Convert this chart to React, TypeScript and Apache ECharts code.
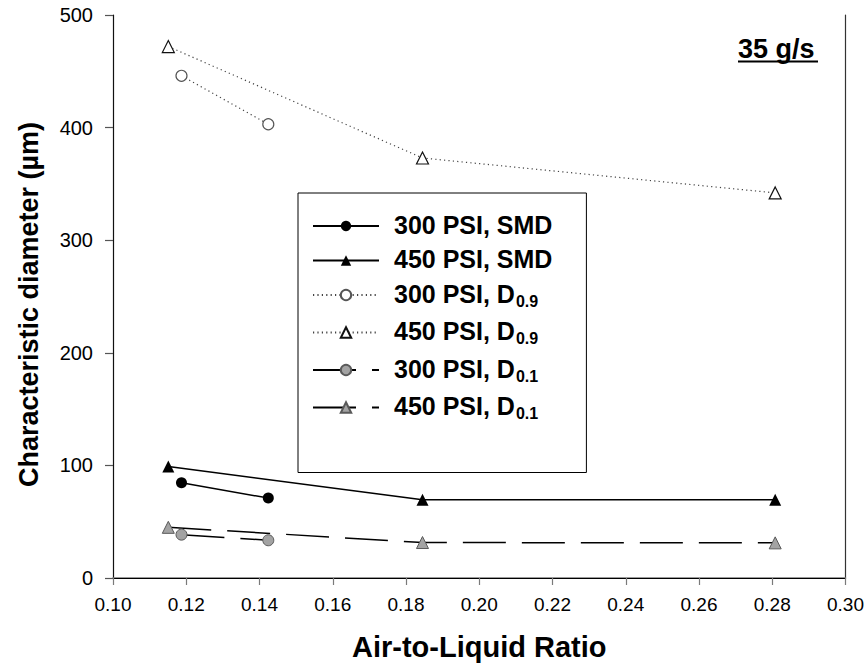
import React, { useEffect, useRef } from "react";
import * as echarts from "echarts";

const ALR_300 = [0.1187, 0.1424];
const ALR_450 = [0.1151, 0.1845, 0.2808];
const SMD_300 = [84.5, 71];
const SMD_450 = [99, 69.5, 69.5];
const D09_300 = [446, 403];
const D09_450 = [472, 373, 342];
const D01_300 = [38.5, 33.5];
const D01_450 = [45, 31.5, 31.2];

const SERIES_NAMES = [
  "300 PSI, SMD",
  "450 PSI, SMD",
  "300 PSI, D0.9",
  "450 PSI, D0.9",
  "300 PSI, D0.1",
  "450 PSI, D0.1",
];
const X_TICKS = { min: 0.1, max: 0.3, interval: 0.02 };
const Y_TICKS = { min: 0, max: 500, interval: 100 };
const TITLE = "35 g/s";
const X_NAME = "Air-to-Liquid Ratio";
const Y_NAME = "Characteristic diameter (\u00b5m)";

const FONT = "'Liberation Sans', Arial, Helvetica, sans-serif";

function pairs(xs: number[], ys: number[]) {
  return xs.map((x, i) => [x, ys[i]]);
}

export default function App() {
  const ref = useRef<HTMLDivElement>(null);
  useEffect(() => {
    document.body.style.margin = "0";
    if (!ref.current) return;
    const chart = echarts.init(ref.current, undefined, { renderer: "svg" });
    const solid = { color: "#000", width: 1.5, type: "solid" as const };
    const dotted = { color: "#444", width: 1.2, type: [1.2, 3.2] as any };
    const dashed = { color: "#000", width: 1.5, type: [43, 16] as any };
    const grayItem = { color: "#a3a3a3", borderColor: "#5a5a5a", borderWidth: 1 };
    const series: any[] = [
      {
        name: SERIES_NAMES[0],
        data: pairs(ALR_300, SMD_300),
        symbol: "circle",
        symbolSize: 11,
        lineStyle: solid,
        itemStyle: { color: "#000", borderColor: "#000", borderWidth: 0 },
      },
      {
        name: SERIES_NAMES[1],
        data: pairs(ALR_450, SMD_450),
        symbol: "triangle",
        symbolSize: 12,
        lineStyle: solid,
        itemStyle: { color: "#000", borderColor: "#000", borderWidth: 0 },
      },
      {
        name: SERIES_NAMES[2],
        data: pairs(ALR_300, D09_300),
        symbol: "circle",
        symbolSize: 11,
        lineStyle: dotted,
        itemStyle: { color: "#fff", borderColor: "#555", borderWidth: 1.2 },
      },
      {
        name: SERIES_NAMES[3],
        data: pairs(ALR_450, D09_450),
        symbol: "triangle",
        symbolSize: 12,
        lineStyle: dotted,
        itemStyle: { color: "#fff", borderColor: "#111", borderWidth: 1.2 },
      },
      {
        name: SERIES_NAMES[4],
        data: pairs(ALR_300, D01_300),
        symbol: "circle",
        symbolSize: 11,
        lineStyle: dashed,
        itemStyle: grayItem,
      },
      {
        name: SERIES_NAMES[5],
        data: pairs(ALR_450, D01_450),
        symbol: "triangle",
        symbolSize: 12,
        lineStyle: dashed,
        itemStyle: grayItem,
      },
    ].map((s) => ({ ...s, type: "line", showSymbol: true, z: 3 }));

    const legendFormatter = (name: string) => {
      const m = name.match(/^(.*D)(0\.\d)$/);
      if (m) return `{m|${m[1]}}{s|${m[2]}}`;
      return `{m|${name}}`;
    };

    chart.setOption({
      animation: false,
      textStyle: { fontFamily: FONT },
      grid: { left: 113, right: 20, top: 15, bottom: 91, containLabel: false },
      legend: {
        orient: "vertical",
        left: 298,
        top: 193,
        data: SERIES_NAMES,
        itemWidth: 66,
        itemHeight: 13,
        itemGap: 9.5,
        padding: [19, 34, 51, 14],
        borderColor: "#000",
        borderWidth: 1,
        backgroundColor: "#fff",
        selectedMode: false,
        formatter: legendFormatter,
        textStyle: {
          rich: {
            m: {
              fontFamily: FONT,
              fontSize: 25,
              fontWeight: "bold",
              color: "#000",
              lineHeight: 28,
              verticalAlign: "top",
              padding: [0, 0, 0, 10],
            },
            s: {
              fontFamily: FONT,
              fontSize: 16,
              fontWeight: "bold",
              color: "#000",
              lineHeight: 16,
              verticalAlign: "top",
              padding: [12, 0, 0, 1],
            },
          },
        },
      },
      xAxis: [
        {
          type: "value",
          min: X_TICKS.min,
          max: X_TICKS.max,
          interval: X_TICKS.interval,
          name: X_NAME,
          nameLocation: "middle",
          nameGap: 54,
          nameTextStyle: { fontFamily: FONT, fontSize: 29, fontWeight: "bold", color: "#000" },
          axisLine: { show: true, lineStyle: { color: "#7a7a7a", width: 1.5 } },
          axisTick: { show: true, length: 7, lineStyle: { color: "#7a7a7a", width: 1.2 } },
          axisLabel: {
            fontFamily: FONT,
            fontSize: 19,
            color: "#000",
            margin: 17,
            formatter: (v: number) => v.toFixed(2),
          },
          splitLine: { show: false },
        },
        {
          type: "value",
          position: "top",
          min: X_TICKS.min,
          max: X_TICKS.max,
          interval: X_TICKS.interval,
          axisLine: { show: true, lineStyle: { color: "#000", width: 1.2 } },
          axisTick: { show: false },
          axisLabel: { show: false },
          splitLine: { show: false },
        },
      ],
      yAxis: [
        {
          type: "value",
          min: Y_TICKS.min,
          max: Y_TICKS.max,
          interval: Y_TICKS.interval,
          name: Y_NAME,
          nameLocation: "middle",
          nameGap: 71,
          nameTextStyle: { fontFamily: FONT, fontSize: 27, fontWeight: "bold", color: "#000", padding: [0, 16, 0, 0] },
          axisLine: { show: true, lineStyle: { color: "#111", width: 1.2 } },
          axisTick: { show: true, length: 8, lineStyle: { color: "#555", width: 1.2 } },
          axisLabel: { fontFamily: FONT, fontSize: 20, color: "#000", margin: 20 },
          splitLine: { show: false },
        },
        {
          type: "value",
          position: "right",
          min: Y_TICKS.min,
          max: Y_TICKS.max,
          interval: Y_TICKS.interval,
          axisLine: { show: true, lineStyle: { color: "#333", width: 1.2 } },
          axisTick: { show: false },
          axisLabel: { show: false },
          splitLine: { show: false },
        },
      ],
      graphic: [
        {
          type: "text",
          left: 738,
          top: 35,
          style: {
            text: TITLE,
            fontFamily: FONT,
            fontSize: 27,
            fontWeight: "bold",
            fill: "#000",
          },
        },
        {
          type: "line",
          shape: { x1: 738, y1: 61.5, x2: 818, y2: 61.5 },
          style: { stroke: "#000", lineWidth: 2 },
        },
      ],
      series,
    });
    return () => chart.dispose();
  }, []);
  return <div ref={ref} style={{ width: 867, height: 669 }} />;
}
